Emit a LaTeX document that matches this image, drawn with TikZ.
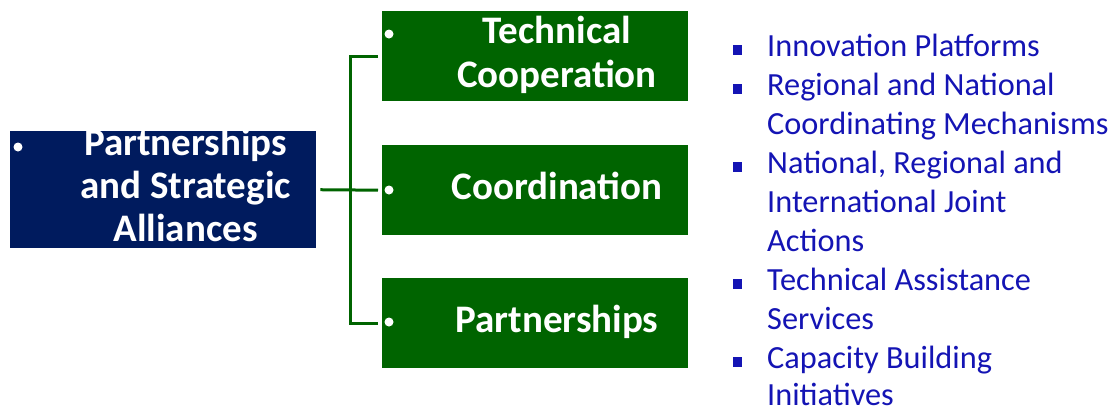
\documentclass[tikz,border=0pt]{standalone}
\usepackage{fontspec}
\setmainfont{Carlito}
\definecolor{navybox}{RGB}{0,27,94}
\definecolor{greenbox}{RGB}{0,100,0}
\definecolor{listblue}{RGB}{20,20,180}
\tikzset{
  navyrect/.style={fill=navybox, draw=none, minimum width=306pt, minimum height=117pt, inner sep=0pt, anchor=north west},
  greenrect/.style={fill=greenbox, draw=none, minimum width=306pt, minimum height=90pt, inner sep=0pt, anchor=north west},
  boxtext/.style={text=white, font=\fontsize{39}{43}\selectfont\bfseries, inner sep=0pt, anchor=base},
  whitedot/.style={circle, fill=white, minimum size=9pt, inner sep=0pt},
  listtext/.style={text=listblue, font=\fontsize{32.3}{39}\selectfont, inner sep=0pt, anchor=base west},
  sqbullet/.style={rectangle, fill=listblue, minimum width=9pt, minimum height=9.5pt, inner sep=0pt},
  conn/.style={draw=greenbox, line width=3pt, shorten <=4pt, shorten >=4pt}
}
\begin{document}
\begin{tikzpicture}[x=1pt,y=-1pt]
\useasboundingbox (0,0) rectangle (1112,410);
% boxes
\node[navyrect] (blue) at (10,131) {};
\node[greenrect] (gA) at (382,11) {};
\node[greenrect] (gB) at (382,145) {};
\node[greenrect] (gC) at (382,278) {};
% bullets in boxes
\node[whitedot] (db) at (18,147) {};
\node[whitedot] (dA) at (389,34) {};
\node[whitedot] (dB) at (389,190) {};
\node[whitedot] (dC) at (389,322) {};
% box texts
\node[boxtext] (t1) at (185.5,155) {Partnerships};
\node[boxtext] (t2) at (185.5,198) {and Strategic};
\node[boxtext] (t3) at (185.5,241) {Alliances};
\node[boxtext] (a1) at (557,43) {Technical};
\node[boxtext] (a2) at (557,87) {Cooperation};
\node[boxtext] (b1) at (557,199) {Coordination};
\node[boxtext] (c1) at (557,332) {Partnerships};
% connectors
\coordinate (jn) at (350,190);
\draw[conn] (blue.east) -- (gB.west);
\draw[conn] (gA.west) -| (jn) |- (gC.west);
% list
\node[sqbullet] (s1) at (737,50) {};
\node[sqbullet] (s2) at (737,89) {};
\node[sqbullet] (s3) at (737,167) {};
\node[sqbullet] (s4) at (737,284) {};
\node[sqbullet] (s5) at (737,362) {};
\node[listtext] (l1) at (767,56) {Innovation Platforms};
\node[listtext] (l2) at (767,95) {Regional and National};
\node[listtext] (l3) at (767,134) {Coordinating Mechanisms};
\node[listtext] (l4) at (767,173) {National, Regional and};
\node[listtext] (l5) at (767,212) {International Joint};
\node[listtext] (l6) at (767,251) {Actions};
\node[listtext] (l7) at (767,290) {Technical Assistance};
\node[listtext] (l8) at (767,329) {Services};
\node[listtext] (l9) at (767,368) {Capacity Building};
\node[listtext] (l10) at (767,405) {Initiatives};
\end{tikzpicture}
\end{document}
